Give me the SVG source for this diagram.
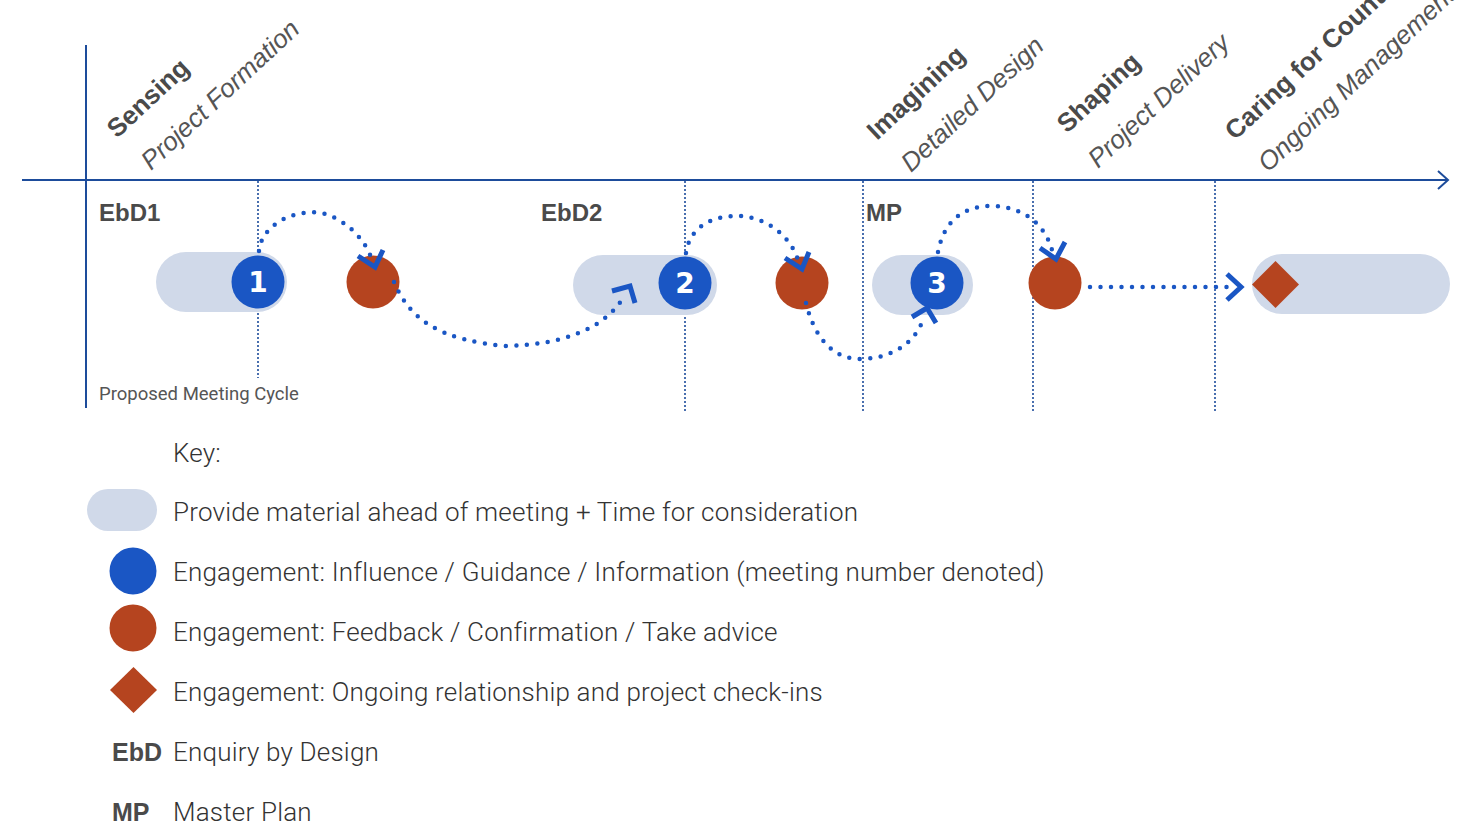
<svg xmlns="http://www.w3.org/2000/svg" width="1461" height="826" viewBox="0 0 1461 826">
<style>
.axis{stroke:#1d4c9b;stroke-width:2;fill:none}
.vdot{stroke:#1d4c9b;stroke-width:1.6;stroke-dasharray:2 2;fill:none}
.pill{fill:#d0d9e9}
.blue{fill:#1a56c4}
.orange{fill:#b5441f}
.num{font-family:"DejaVu Sans",sans-serif;font-weight:bold;font-size:28px;fill:#fff;text-anchor:middle}
.flow{stroke:#1a56c4;stroke-width:4.5;stroke-linecap:round;stroke-dasharray:0 10.5;fill:none}
.chev{stroke:#1a56c4;stroke-width:5;fill:none;stroke-linejoin:miter}
.stage{font-family:"Liberation Sans",Arial,sans-serif;font-weight:bold;font-size:26px;fill:#4a4a4a}
.sub{font-family:"Liberation Sans",Arial,sans-serif;font-style:italic;font-size:26px;fill:#555}
.tag{font-family:"Liberation Sans",Arial,sans-serif;font-weight:bold;font-size:24px;fill:#4a4a4a}
.ltag{font-family:"Liberation Sans",Arial,sans-serif;font-weight:bold;font-size:25px;fill:#4a4a4a}
.key{font-family:Roboto,"Liberation Sans",sans-serif;font-weight:300;font-size:26px;letter-spacing:0.2px;fill:#333}
.small{font-family:Roboto,"Liberation Sans",sans-serif;font-size:18.5px;fill:#555}
</style>

<g id="axes">
<line class="axis" x1="86" y1="45" x2="86" y2="408"/>
<line class="axis" x1="22" y1="180" x2="1448" y2="180"/>
<polyline class="axis" points="1438,171 1448,180 1438,189"/>
<line class="vdot" x1="258" y1="181" x2="258" y2="378"/>
<line class="vdot" x1="685" y1="181" x2="685" y2="412"/>
<line class="vdot" x1="863" y1="181" x2="863" y2="412"/>
<line class="vdot" x1="1033" y1="181" x2="1033" y2="412"/>
<line class="vdot" x1="1215" y1="181" x2="1215" y2="412"/>
</g>

<g id="stage-labels">
<text class="stage" transform="translate(117,139) rotate(-43)">Sensing</text>
<text class="sub" transform="translate(151,171) rotate(-43)">Project Formation</text>
<text class="stage" transform="translate(877,141) rotate(-43)">Imagining</text>
<text class="sub" transform="translate(911,173) rotate(-43)">Detailed Design</text>
<text class="stage" transform="translate(1067,134) rotate(-43)">Shaping</text>
<text class="sub" transform="translate(1098,169) rotate(-43)">Project Delivery</text>
<text class="stage" transform="translate(1235,141) rotate(-43)">Caring for Country</text>
<text class="sub" transform="translate(1268,173) rotate(-43)">Ongoing Management</text>
</g>

<g id="tags">
<text class="tag" x="99" y="221">EbD1</text>
<text class="tag" x="541" y="221">EbD2</text>
<text class="tag" x="866" y="221">MP</text>
<text class="small" x="99" y="400">Proposed Meeting Cycle</text>
</g>

<g id="node-1">
<rect class="pill" x="156" y="252" width="131" height="60" rx="30"/>
<circle class="blue" cx="258" cy="282" r="26.5"/>
<text class="num" x="258" y="292">1</text>
</g>
<g id="node-feedback-1"><circle class="orange" cx="373" cy="282" r="26.5"/></g>

<g id="node-2">
<rect class="pill" x="573" y="255" width="144" height="60" rx="30"/>
<circle class="blue" cx="685" cy="283" r="26.5"/>
<text class="num" x="685" y="293">2</text>
</g>
<g id="node-feedback-2"><circle class="orange" cx="802" cy="283" r="26.5"/></g>

<g id="node-3">
<rect class="pill" x="872" y="255" width="101" height="60" rx="30"/>
<circle class="blue" cx="937" cy="283" r="26.5"/>
<text class="num" x="937" y="293">3</text>
</g>
<g id="node-feedback-3"><circle class="orange" cx="1055" cy="283" r="26.5"/></g>

<g id="node-ongoing">
<rect class="pill" x="1252" y="254" width="198" height="60" rx="30"/>
<polygon class="orange" points="1275.5,261 1299,284.5 1275.5,308 1252,284.5"/>
</g>

<g id="connectors">
<path class="flow" d="M259,251 C262,222 300,207 325,214 C345,220 365,238 372,260"/>
<polyline class="chev" points="358,256 375,267 383,250"/>
<path class="flow" d="M394,282 C410,320 440,340 505,346 C560,345 605,330 625,295"/>
<polyline class="chev" points="612,291 630,286 635,303"/>
<path class="flow" d="M686,253 C690,225 715,215 740,216 C765,217 790,235 798,260"/>
<polyline class="chev" points="785,258 802,269 809,252"/>
<path class="flow" d="M806,303 C815,340 835,360 862,359 C895,358 918,340 924,316"/>
<polyline class="chev" points="912,317 927,308 936,323"/>
<path class="flow" d="M938,252 C945,215 970,205 995,206 C1025,208 1045,225 1052,250"/>
<polyline class="chev" points="1040,248 1056,259 1065,242"/>
<path class="flow" d="M1090,287 L1236,287"/>
<polyline class="chev" points="1227,274 1241,287 1227,300"/>
</g>

<g id="legend">
<text class="key" x="173" y="462">Key:</text>
<rect class="pill" x="87" y="489" width="70" height="42" rx="21"/>
<text class="key" x="173" y="521">Provide material ahead of meeting + Time for consideration</text>
<circle class="blue" cx="133" cy="571" r="23.5"/>
<text class="key" x="173" y="581">Engagement: Influence / Guidance / Information (meeting number denoted)</text>
<circle class="orange" cx="133" cy="628" r="23.5"/>
<text class="key" x="173" y="641">Engagement: Feedback / Confirmation / Take advice</text>
<polygon class="orange" points="133.5,667 157,690 133.5,713 110,690"/>
<text class="key" x="173" y="701">Engagement: Ongoing relationship and project check-ins</text>
<text class="ltag" x="112" y="761">EbD</text>
<text class="key" x="173" y="761">Enquiry by Design</text>
<text class="ltag" x="112" y="821">MP</text>
<text class="key" x="173" y="821">Master Plan</text>
</g>
</svg>
